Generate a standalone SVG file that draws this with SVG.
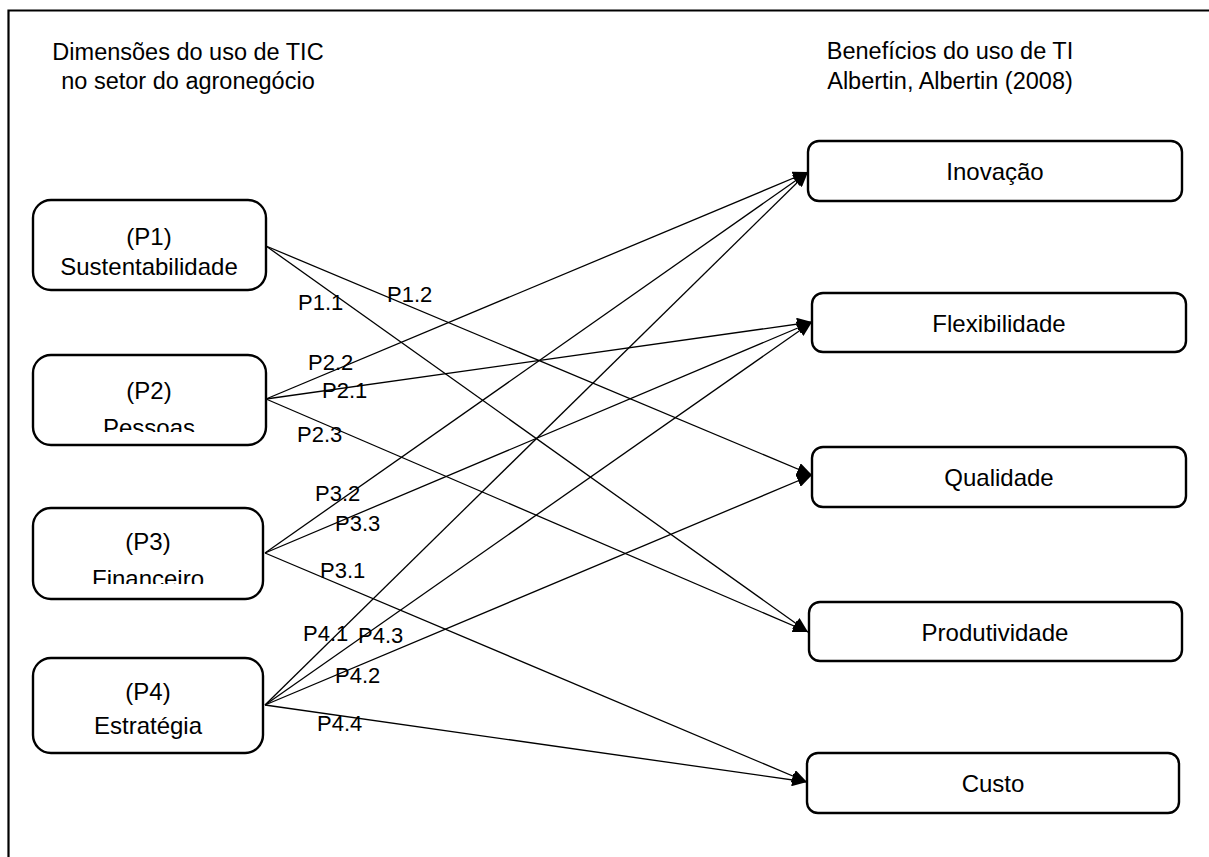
<svg xmlns="http://www.w3.org/2000/svg" width="1209" height="857" viewBox="0 0 1209 857">
<style>
.frame{fill:none;stroke:#000;stroke-width:2.2}
.box{fill:#fff;stroke:#000;stroke-width:2.4}
.t{font-family:"Liberation Sans",Arial,sans-serif;font-size:24px;fill:#000;text-anchor:middle}
.title{font-family:"Liberation Sans",Arial,sans-serif;font-size:23.5px;fill:#000;text-anchor:middle}
.lbl{font-family:"Liberation Sans",Arial,sans-serif;font-size:22px;fill:#000}
.c{fill:none;stroke:#000;stroke-width:1.3;marker-end:url(#ah)}
</style>
<defs>
<marker id="ah" markerUnits="userSpaceOnUse" markerWidth="16" markerHeight="13" refX="15" refY="6.5" orient="auto">
<path d="M0,0 L15,6.5 L0,13 z" fill="#000"/>
</marker>
<clipPath id="clipP2"><rect x="33" y="355" width="233" height="77"/></clipPath>
<clipPath id="clipP3"><rect x="33" y="508" width="230" height="76"/></clipPath>
</defs>
<rect x="0" y="0" width="1209" height="857" fill="#fff"/>
<path class="frame" d="M8.5,870 L8.5,10.5 L1220,10.5"/>
<g id="title-left">
<text class="title" x="188" y="60">Dimensões do uso de TIC</text>
<text class="title" x="188" y="89">no setor do agronegócio</text>
</g>
<g id="title-right">
<text class="title" x="950" y="59">Benefícios do uso de TI</text>
<text class="title" x="950" y="89">Albertin, Albertin (2008)</text>
</g>
<g id="connectors">
<line class="c" x1="266" y1="246" x2="808" y2="632"/>
<line class="c" x1="266" y1="246" x2="812" y2="475"/>
<line class="c" x1="266" y1="399" x2="808" y2="172"/>
<line class="c" x1="266" y1="399" x2="812" y2="322"/>
<line class="c" x1="266" y1="399" x2="808" y2="632"/>
<line class="c" x1="265" y1="553" x2="808" y2="172"/>
<line class="c" x1="265" y1="553" x2="812" y2="322"/>
<line class="c" x1="265" y1="553" x2="807" y2="782"/>
<line class="c" x1="265" y1="705" x2="808" y2="172"/>
<line class="c" x1="265" y1="705" x2="812" y2="322"/>
<line class="c" x1="265" y1="705" x2="812" y2="475"/>
<line class="c" x1="265" y1="705" x2="807" y2="782"/>
</g>
<g id="connector-labels">
<text class="lbl" x="298" y="310">P1.1</text>
<text class="lbl" x="387" y="302">P1.2</text>
<text class="lbl" x="308" y="370">P2.2</text>
<text class="lbl" x="322" y="398">P2.1</text>
<text class="lbl" x="297" y="442">P2.3</text>
<text class="lbl" x="315" y="501">P3.2</text>
<text class="lbl" x="335" y="531">P3.3</text>
<text class="lbl" x="320" y="578">P3.1</text>
<text class="lbl" x="303" y="641">P4.1</text>
<text class="lbl" x="358" y="643">P4.3</text>
<text class="lbl" x="335" y="683">P4.2</text>
<text class="lbl" x="317" y="731">P4.4</text>
</g>
<g id="node-p1">
<rect class="box" x="33" y="200" width="233" height="90" rx="18"/>
<text class="t" x="149" y="245">(P1)</text>
<text class="t" x="149" y="275">Sustentabilidade</text>
</g>
<g id="node-p2">
<rect class="box" x="33" y="355" width="233" height="90" rx="18"/>
<text class="t" x="149" y="399">(P2)</text>
<text class="t" x="149" y="436" clip-path="url(#clipP2)">Pessoas</text>
</g>
<g id="node-p3">
<rect class="box" x="33" y="508" width="230" height="91" rx="18"/>
<text class="t" x="148" y="550">(P3)</text>
<text class="t" x="148" y="587" clip-path="url(#clipP3)">Financeiro</text>
</g>
<g id="node-p4">
<rect class="box" x="33" y="658" width="230" height="95" rx="18"/>
<text class="t" x="148" y="700">(P4)</text>
<text class="t" x="148" y="734">Estratégia</text>
</g>
<g id="node-inovacao">
<rect class="box" x="808" y="141" width="374" height="60" rx="11"/>
<text class="t" x="995" y="180">Inovação</text>
</g>
<g id="node-flexibilidade">
<rect class="box" x="812" y="293" width="374" height="59" rx="11"/>
<text class="t" x="999" y="332">Flexibilidade</text>
</g>
<g id="node-qualidade">
<rect class="box" x="812" y="447" width="374" height="60" rx="11"/>
<text class="t" x="999" y="486">Qualidade</text>
</g>
<g id="node-produtividade">
<rect class="box" x="809" y="602" width="373" height="59" rx="11"/>
<text class="t" x="995" y="641">Produtividade</text>
</g>
<g id="node-custo">
<rect class="box" x="807" y="753" width="372" height="60" rx="11"/>
<text class="t" x="993" y="792">Custo</text>
</g>
</svg>
